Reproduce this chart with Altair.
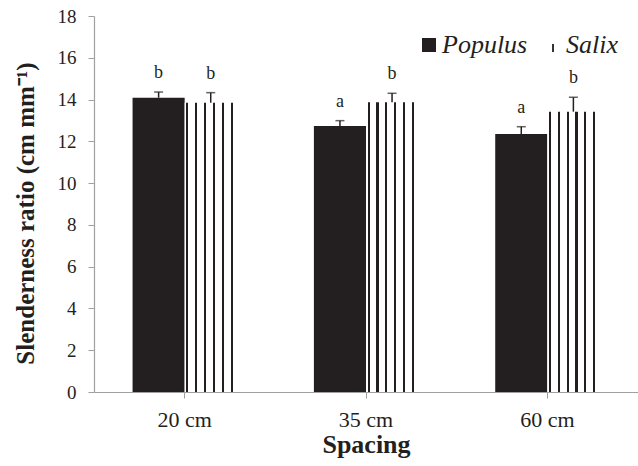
import altair as alt
import pandas as pd

spacing = ["20 cm", "35 cm", "60 cm"]
species = ["Populus", "Salix"]
populus_mean = [14.09, 12.73, 12.35]
populus_se = [0.27, 0.26, 0.35]
salix_mean = [13.85, 13.87, 13.42]
salix_se = [0.48, 0.43, 0.69]
populus_letters = ["b", "a", "a"]
salix_letters = ["b", "b", "b"]

rows = []
for i, s in enumerate(spacing):
    rows.append(dict(spacing=s, species="Populus", mean=populus_mean[i], se=populus_se[i],
                     upper=populus_mean[i] + populus_se[i], letter=populus_letters[i]))
    rows.append(dict(spacing=s, species="Salix", mean=salix_mean[i], se=salix_se[i],
                     upper=salix_mean[i] + salix_se[i], letter=salix_letters[i]))
df = pd.DataFrame(rows)

DARK = "#231f20"
GRAY = "#a0a0a0"
FONT = "Liberation Serif"
YTITLE = "Slenderness ratio (cm mm\u207b\u00b9)"

# vertical stripe fill for Salix bars (hard-stop gradient)
stops = [{"offset": 0.0, "color": "white"}]
for start in [0.03, 0.20, 0.37, 0.54, 0.71, 0.88]:
    stops += [{"offset": start, "color": "white"}, {"offset": start, "color": DARK},
              {"offset": start + 0.04, "color": DARK}, {"offset": start + 0.04, "color": "white"}]
stops.append({"offset": 1.0, "color": "white"})
stripe = {"gradient": "linear", "x1": 0, "y1": 0, "x2": 1, "y2": 0, "stops": stops}

x_enc = alt.X("spacing:N", scale=alt.Scale(domain=spacing, paddingInner=0, paddingOuter=0),
              axis=alt.Axis(title="Spacing", labelAngle=0, labelFont=FONT, labelFontSize=22,
                            labelColor=DARK, labelBaseline="alphabetic", labelPadding=28,
                            tickSize=6, tickColor=GRAY, domainColor=GRAY, domainWidth=1.2,
                            titleFont=FONT, titleFontSize=26, titleFontWeight="bold",
                            titleColor=DARK, titleBaseline="alphabetic", titleY=60, titleX=272))
xo_enc = alt.XOffset("species:N", scale=alt.Scale(domain=species, paddingInner=0, paddingOuter=0.74))
y_axis = alt.Axis(title=YTITLE, values=list(range(0, 19, 2)), labelFont=FONT, labelFontSize=19,
                  labelColor=DARK, labelPadding=12, tickSize=6, tickColor=GRAY, domainColor=GRAY,
                  domainWidth=1.2, grid=False, titleFont=FONT, titleFontSize=25,
                  titleFontWeight="bold", titleColor=DARK, titleBaseline="alphabetic",
                  titleAngle=-90, titleX=-61, titleY=197)
y_scale = alt.Scale(domain=[0, 18], nice=False)

base = alt.Chart(df)

pop_bars = base.transform_filter(alt.datum.species == "Populus").mark_bar(fill=DARK).encode(
    x=x_enc, xOffset=xo_enc, y=alt.Y("mean:Q", scale=y_scale, axis=y_axis))
sal_bars = base.transform_filter(alt.datum.species == "Salix").mark_bar(fill=stripe).encode(
    x=x_enc, xOffset=xo_enc, y=alt.Y("mean:Q", scale=y_scale, axis=y_axis))
err = base.mark_rule(color=DARK, strokeWidth=1.5).encode(
    x=x_enc, xOffset=xo_enc, y=alt.Y("mean:Q", scale=y_scale, axis=y_axis), y2="upper:Q")
caps = base.mark_tick(color=DARK, thickness=1.5, size=9, orient="horizontal").encode(
    x=x_enc, xOffset=xo_enc, y=alt.Y("upper:Q", scale=y_scale, axis=y_axis))
letters = base.mark_text(dy=-14, baseline="alphabetic", font=FONT, fontSize=18, color=DARK).encode(
    x=x_enc, xOffset=xo_enc, y=alt.Y("upper:Q", scale=y_scale, axis=y_axis), text="letter:N")

legend = alt.Legend(title=None, orient="none", legendX=322, legendY=16, direction="horizontal",
                    symbolSize=196, symbolOpacity=1, symbolStrokeWidth=0, labelFont=FONT,
                    labelFontSize=26, labelFontStyle="italic", labelColor=DARK, labelOffset=0,
                    columnPadding=12, padding=0)
legend_pts = base.mark_point(filled=True, opacity=0).encode(
    x=x_enc, xOffset=xo_enc, y=alt.Y("upper:Q", scale=y_scale, axis=y_axis),
    color=alt.Color("species:N", scale=alt.Scale(domain=species, range=[DARK, DARK]), legend=legend),
    shape=alt.Shape("species:N", scale=alt.Scale(
        domain=species, range=["square", "M-0.13,-0.15L0.13,-0.15L0.13,1L-0.13,1Z"]), legend=legend))

chart = alt.layer(pop_bars, sal_bars, err, caps, letters, legend_pts).properties(
    width=544, height=376, autosize=alt.AutoSizeParams(type="none"),
    padding={"left": 94, "top": 16, "right": 0, "bottom": 74},
    background="white").configure_view(stroke=None)

chart.save("out.html", embed_options={"renderer": "svg", "actions": False})
